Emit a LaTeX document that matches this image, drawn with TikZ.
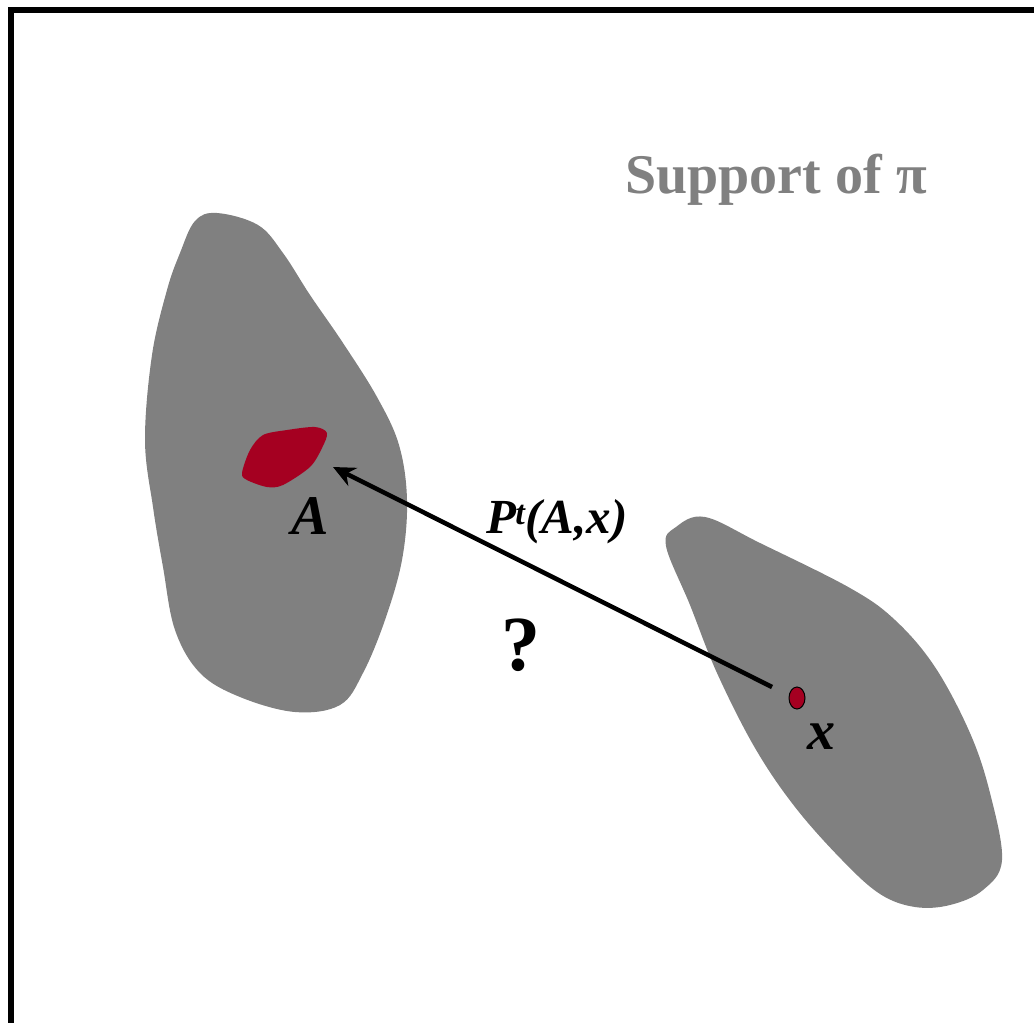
\documentclass[tikz,border=0pt]{standalone}
\usepackage{fontspec}
\setmainfont{Liberation Serif}
\usetikzlibrary{arrows.meta,shapes.geometric}
\definecolor{blobgray}{HTML}{808080}
\definecolor{setred}{HTML}{A50021}
\tikzset{
  blob/.style={fill=blobgray, draw=none},
  redset/.style={fill=setred, draw=none},
  lbl/.style={inner sep=0pt, font=\bfseries\itshape\fontsize{56}{60}\selectfont},
}
\begin{document}
\begin{tikzpicture}[x=1pt,y=-1pt]
\useasboundingbox (0,0) rectangle (1034,1023);
\begin{scope}
\clip (0,0) rectangle (1034,1023);
\draw[line width=6pt] (11,1040) -- (11,10) -- (1050,10);
\end{scope}
% left support blob
\fill[blob] plot[smooth cycle, tension=0.6] coordinates {
 (195,221) (217,213) (258,225) (283,253) (310,295) (343,343) (377,397) (399,445)
 (407,500) (402,560) (385,620) (363,673) (340,705) (295,712) (240,697) (200,673)
 (175,630) (163,567) (153,507) (145,440) (152,355) (167,290) (180,253)};
% right support blob
\fill[blob] plot[smooth cycle, tension=0.6] coordinates {
 (666,546) (676,527) (705,517) (760,543) (850,588) (895,620) (935,667) (970,733)
 (990,793) (1002,860) (983,890) (950,905) (915,907) (880,894) (842,860) (795,807)
 (755,748) (717,673) (690,605)};
% set A
\fill[redset] plot[smooth cycle, tension=0.5] coordinates {
 (242,473) (250,450) (263,435) (287,430) (315,427) (327,433) (322,448) (310,467)
 (283,485) (267,487) (247,480)};
% point x
\node[ellipse, draw=black, line width=1pt, fill=setred, minimum width=16pt, minimum height=22pt, inner sep=0pt] (xdot) at (797,698) {};
\coordinate (tail) at (772,687);
\coordinate (head) at (333,467);
\draw[line width=4.5pt, -{Stealth[length=22pt,width=20pt]}] (tail) -- (head);
% labels
\node[lbl] (labA) at (310,516) {A};
\node[lbl] (labx) at (821,737) {x};
\node[inner sep=0pt, font=\bfseries\itshape\fontsize{49}{52}\selectfont] (labP) at (557,522) {P\kern-1pt\textsuperscript{t}(A,x)};
\node[inner sep=0pt, font=\bfseries\fontsize{78}{82}\selectfont] (labq) at (521,645) {?};
\node[inner sep=0pt, text=blobgray, font=\bfseries\fontsize{56}{60}\selectfont] (labS) at (776,180) {Support of π};
\end{tikzpicture}
\end{document}
